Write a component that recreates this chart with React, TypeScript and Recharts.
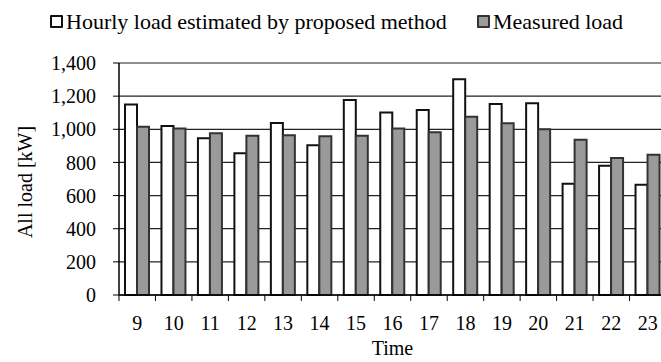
import { BarChart, Bar, XAxis, YAxis, CartesianGrid } from 'recharts';

const hours = ['9', '10', '11', '12', '13', '14', '15', '16', '17', '18', '19', '20', '21', '22', '23'];
const estimatedLoad = [1150, 1020, 946, 855, 1038, 903, 1177, 1102, 1116, 1302, 1153, 1157, 672, 780, 666];
const measuredLoad = [1016, 1004, 976, 961, 964, 958, 961, 1004, 982, 1076, 1036, 1000, 937, 827, 847];
const yTicks = [0, 200, 400, 600, 800, 1000, 1200, 1400];

const data = hours.map((h, i) => ({ time: h, estimated: estimatedLoad[i], measured: measuredLoad[i] }));

const FONT = '"Liberation Serif", "Times New Roman", serif';
const W = 666;
const H = 362;
const LEFT = 119;
const BAND = (W - LEFT) / hours.length;

function TimeTick(props: any) {
  const { x, y, payload } = props;
  const bx = x - BAND / 2;
  return (
    <g>
      <line x1={bx} x2={bx} y1={y} y2={y + 6} stroke="#000" strokeWidth={1} />
      <text x={x} y={y + 35} textAnchor="middle" fontFamily={FONT} fontSize={20} fill="#000">
        {payload.value}
      </text>
    </g>
  );
}

function Swatch({ fill, stroke }: { fill: string; stroke: string }) {
  return (
    <span
      style={{
        display: 'inline-block',
        width: 9,
        height: 9,
        background: fill,
        border: `2px solid ${stroke}`,
        borderRadius: 1,
        marginRight: 3,
        verticalAlign: 'middle',
        position: 'relative',
        top: -2,
      }}
    />
  );
}

export default function App() {
  return (
    <div style={{ position: 'absolute', left: 0, top: 0, width: 661, height: H, overflow: 'hidden', background: '#fff' }}>
      <div style={{ position: 'absolute', left: 50, top: 9, fontFamily: FONT, fontSize: 22, color: '#000', whiteSpace: 'nowrap' }}>
        <Swatch fill="#fff" stroke="#111" />
        Hourly load estimated by proposed method
      </div>
      <div style={{ position: 'absolute', left: 477, top: 9, fontFamily: FONT, fontSize: 22, color: '#000', whiteSpace: 'nowrap' }}>
        <Swatch fill="#9c9c9c" stroke="#333" />
        Measured load
      </div>
      <BarChart
        width={W}
        height={H}
        data={data}
        margin={{ top: 63, right: 0, bottom: 0, left: 0 }}
        barGap={0}
        barSize={12}
      >
        <CartesianGrid vertical={false} stroke="#222" strokeWidth={1.2} />
        <XAxis
          dataKey="time"
          height={67}
          axisLine={{ stroke: '#000', strokeWidth: 1.5 }}
          tickLine={false}
          tickSize={0}
          tickMargin={0}
          tick={<TimeTick />}
          interval={0}
          label={{ value: 'Time', position: 'insideBottom', offset: 7, fontFamily: FONT, fontSize: 20, fill: '#000' }}
        />
        <YAxis
          width={LEFT}
          domain={[0, 1400]}
          ticks={yTicks}
          interval={0}
          tickFormatter={(v: number) => v.toLocaleString('en-US')}
          axisLine={{ stroke: '#000', strokeWidth: 1.5 }}
          tickLine={{ stroke: '#000' }}
          tickSize={6}
          tickMargin={17}
          tick={{ fontFamily: FONT, fontSize: 20, fill: '#000' }}
          label={{
            content: () => (
              <text x={32} y={182} transform="rotate(-90, 32, 182)" textAnchor="middle" fontFamily={FONT} fontSize={20} fill="#000">
                All load [kW]
              </text>
            ),
          }}
        />
        <Bar dataKey="estimated" fill="#fff" stroke="#111" strokeWidth={2} isAnimationActive={false} />
        <Bar dataKey="measured" fill="#9a9a9a" stroke="#333" strokeWidth={2} isAnimationActive={false} />
      </BarChart>
    </div>
  );
}
